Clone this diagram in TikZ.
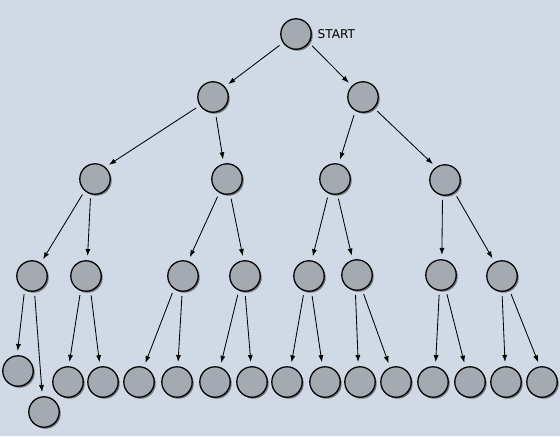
\documentclass[tikz,border=0pt]{standalone}
\usepackage{fontspec}
\setmainfont{DejaVu Sans}
\usepackage{tikz}
\usetikzlibrary{shadows, arrows.meta, positioning}
\definecolor{paper}{RGB}{207,218,230}
\definecolor{stone}{RGB}{163,170,178}
\tikzset{
  ball/.style={circle, draw, line width=0.9pt, fill=stone, minimum size=0.76cm, inner sep=0pt,
    drop shadow={shadow xshift=1.1pt, shadow yshift=-1.1pt, opacity=0.45, fill=black}},
  edge/.style={-{Latex[length=5pt, width=3.6pt]}, line width=0.6pt, shorten >=3pt, shorten <=3pt}
}

\begin{document}
\begin{tikzpicture}[x=0.025cm, y=-0.025cm]
\fill[paper] (0,0) rectangle (560,436);
\useasboundingbox (0,0) rectangle (560,436);
\node[ball] (N0) at (296,34) {};
\node[right = 3pt of N0, inner sep=1pt, font=\fontsize{8.6}{10}\selectfont] (Lbl) {START};
\node[ball] (N11) at (213,97) {};
\node[ball] (N12) at (363,97) {};
\node[ball] (N21) at (95,179) {};
\node[ball] (N22) at (227,179) {};
\node[ball] (N23) at (335,179) {};
\node[ball] (N24) at (445,180) {};
\node[ball] (N31) at (32,276) {};
\node[ball] (N32) at (86,276) {};
\node[ball] (N33) at (183,276) {};
\node[ball] (N34) at (245,276) {};
\node[ball] (N35) at (309,276) {};
\node[ball] (N36) at (357,275) {};
\node[ball] (N37) at (441,275) {};
\node[ball] (N38) at (502,276) {};
\node[ball] (L1) at (18,371) {};
\node[ball] (L2) at (44,412) {};
\node[ball] (L3) at (68,382) {};
\node[ball] (L4) at (103,382) {};
\node[ball] (L5) at (139,382) {};
\node[ball] (L6) at (177,382) {};
\node[ball] (L7) at (215,382) {};
\node[ball] (L8) at (252,382) {};
\node[ball] (L9) at (287,382) {};
\node[ball] (L10) at (325,382) {};
\node[ball] (L11) at (360,382) {};
\node[ball] (L12) at (396,382) {};
\node[ball] (L13) at (433,382) {};
\node[ball] (L14) at (470,382) {};
\node[ball] (L15) at (506,382) {};
\node[ball] (L16) at (542,382) {};
\draw[edge] (N0.214) -- (N11.41);
\draw[edge] (N0.326) -- (N12.135);
\draw[edge] (N11.213) -- (N21.49);
\draw[edge] (N11.279) -- (N22.102);
\draw[edge] (N12.241) -- (N23.76);
\draw[edge] (N12.315) -- (N24.125);
\draw[edge] (N21.229) -- (N31.56);
\draw[edge] (N21.254) -- (N32.85);
\draw[edge] (N22.241) -- (N33.71);
\draw[edge] (N22.282) -- (N34.95);
\draw[edge] (N23.246) -- (N35.80);
\draw[edge] (N23.279) -- (N36.106);
\draw[edge] (N24.261) -- (N37.87);
\draw[edge] (N24.307) -- (N38.118);
\draw[edge] (N31.242) -- (L1.93);
\draw[edge] (N31.279) -- (L2.96);
\draw[edge] (N32.250) -- (L3.87);
\draw[edge] (N32.287) -- (L4.101);
\draw[edge] (N33.235) -- (L5.72);
\draw[edge] (N33.267) -- (L6.87);
\draw[edge] (N34.247) -- (L7.71);
\draw[edge] (N34.270) -- (L8.93);
\draw[edge] (N35.252) -- (L9.76);
\draw[edge] (N35.279) -- (L10.99);
\draw[edge] (N36.264) -- (L11.96);
\draw[edge] (N36.289) -- (L12.112);
\draw[edge] (N37.264) -- (L13.81);
\draw[edge] (N37.288) -- (L14.107);
\draw[edge] (N38.270) -- (L15.93);
\draw[edge] (N38.298) -- (L16.98);
\end{tikzpicture}
\end{document}
